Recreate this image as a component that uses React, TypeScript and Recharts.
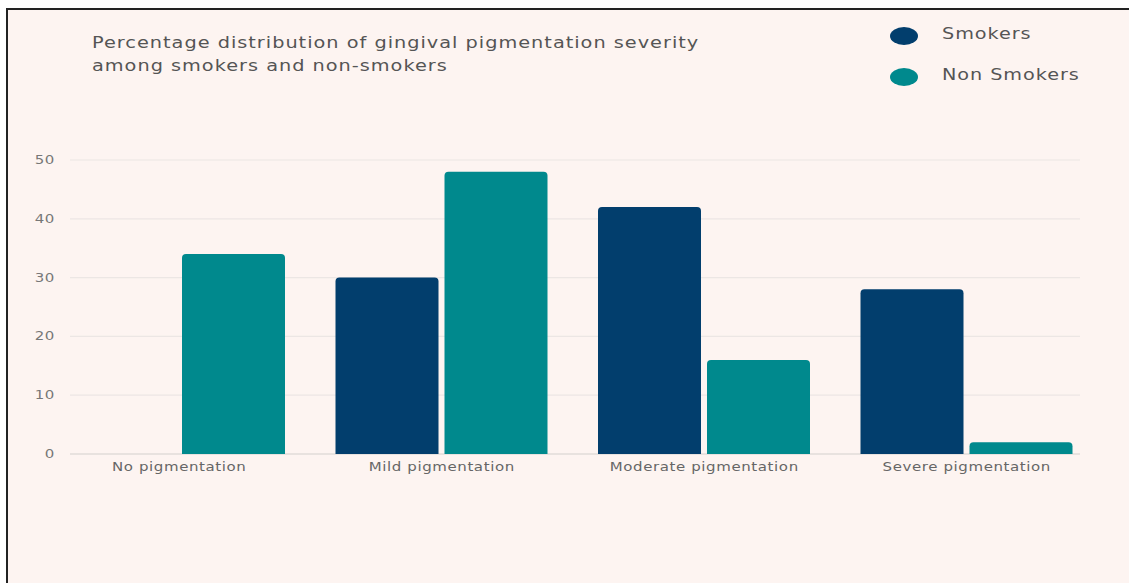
import React from 'react';
import { BarChart, Bar, XAxis, YAxis, CartesianGrid } from 'recharts';

const categories = ['No pigmentation', 'Mild pigmentation', 'Moderate pigmentation', 'Severe pigmentation'];
const smokers = [0, 30, 42, 28];
const nonSmokers = [34, 48, 16, 2];
const yTicks = [0, 10, 20, 30, 40, 50];

const SMOKER_COLOR = '#023e6d';
const NON_SMOKER_COLOR = '#00898d';
const FONT = '"DejaVu Sans", sans-serif';
// the original uses a very wide geometric face, so stretch DejaVu a bit
const STRETCH = 1.2;

const data = categories.map((name, i) => ({
    name,
    smokers: smokers[i],
    nonSmokers: nonSmokers[i],
}));

const legendItems = [
    { label: 'Smokers', color: SMOKER_COLOR },
    { label: 'Non Smokers', color: NON_SMOKER_COLOR },
];

const YTick = (props: any) => (
    <text transform={`translate(49 ${props.y + 4}) scale(${STRETCH} 1)`} textAnchor="end" fill="#777" fontSize={12.5} fontFamily={FONT} letterSpacing={0.5}>
        {props.payload.value}
    </text>
);

const XTick = (props: any) => (
    <text transform={`translate(${props.x} ${props.y + 9}) scale(${STRETCH} 1)`} textAnchor="middle" fill="#666" fontSize={12.5} fontFamily={FONT} letterSpacing={0.5}>
        {props.payload.value}
    </text>
);

// grid lines in the original stop a bit short of the bar area
const GridLine = (props: any) => (
    <line
        x1={props.x1 + 22}
        x2={props.x2 - 18}
        y1={props.y1}
        y2={props.y2}
        stroke={props.y1 > 440 ? '#d4cfcd' : '#ece6e4'}
        strokeWidth={1.2}
    />
);

const App: React.FC = () => {
    return (
        <div style={{ position: 'fixed', left: 6, top: 8, width: 1123, height: 575, background: '#fdf4f1', overflow: 'hidden' }}>
            <style>{`body{overflow:hidden}`}</style>
            <div style={{ position: 'absolute', left: 0, top: 0, width: 2, height: 575, background: '#222' }} />
            <div style={{ position: 'absolute', left: 0, top: 0, width: 1123, height: 2, background: '#222' }} />
            <div style={{ position: 'absolute', left: 86, top: 24, fontFamily: FONT, fontSize: 15.5, letterSpacing: 0.8, lineHeight: '23px', color: '#555', transform: 'scaleX(1.245)', transformOrigin: 'left top', whiteSpace: 'nowrap' }}>
                Percentage distribution of gingival pigmentation severity<br />
                among smokers and non-smokers
            </div>
            <div style={{ position: 'absolute', left: 884, top: 5, fontFamily: FONT, fontSize: 16, color: '#555' }}>
                {legendItems.map((item) => (
                    <div key={item.label} style={{ display: 'flex', alignItems: 'center', height: 41 }}>
                        <span style={{ width: 28, height: 18, borderRadius: '50%', background: item.color, marginRight: 24, marginTop: 4 }} />
                        <span style={{ display: 'inline-block', transform: `scaleX(${STRETCH})`, transformOrigin: 'left center', letterSpacing: 0.8, whiteSpace: 'nowrap' }}>{item.label}</span>
                    </div>
                ))}
            </div>
            <BarChart
                width={1123}
                height={575}
                data={data}
                margin={{ top: 152, right: 31, left: 0, bottom: 99 }}
                barGap={6}
                style={{ position: 'absolute', left: 0, top: 0 }}
            >
                <CartesianGrid vertical={false} horizontal={GridLine} />
                <XAxis dataKey="name" height={30} axisLine={false} tickLine={false} tick={XTick} />
                <YAxis width={42} domain={[0, 50]} ticks={yTicks} axisLine={false} tickLine={false} tick={YTick} />
                <Bar dataKey="smokers" name="Smokers" fill={SMOKER_COLOR} barSize={103} radius={[4, 4, 0, 0]} isAnimationActive={false} />
                <Bar dataKey="nonSmokers" name="Non Smokers" fill={NON_SMOKER_COLOR} barSize={103} radius={[4, 4, 0, 0]} isAnimationActive={false} />
            </BarChart>
        </div>
    );
};

export default App;
